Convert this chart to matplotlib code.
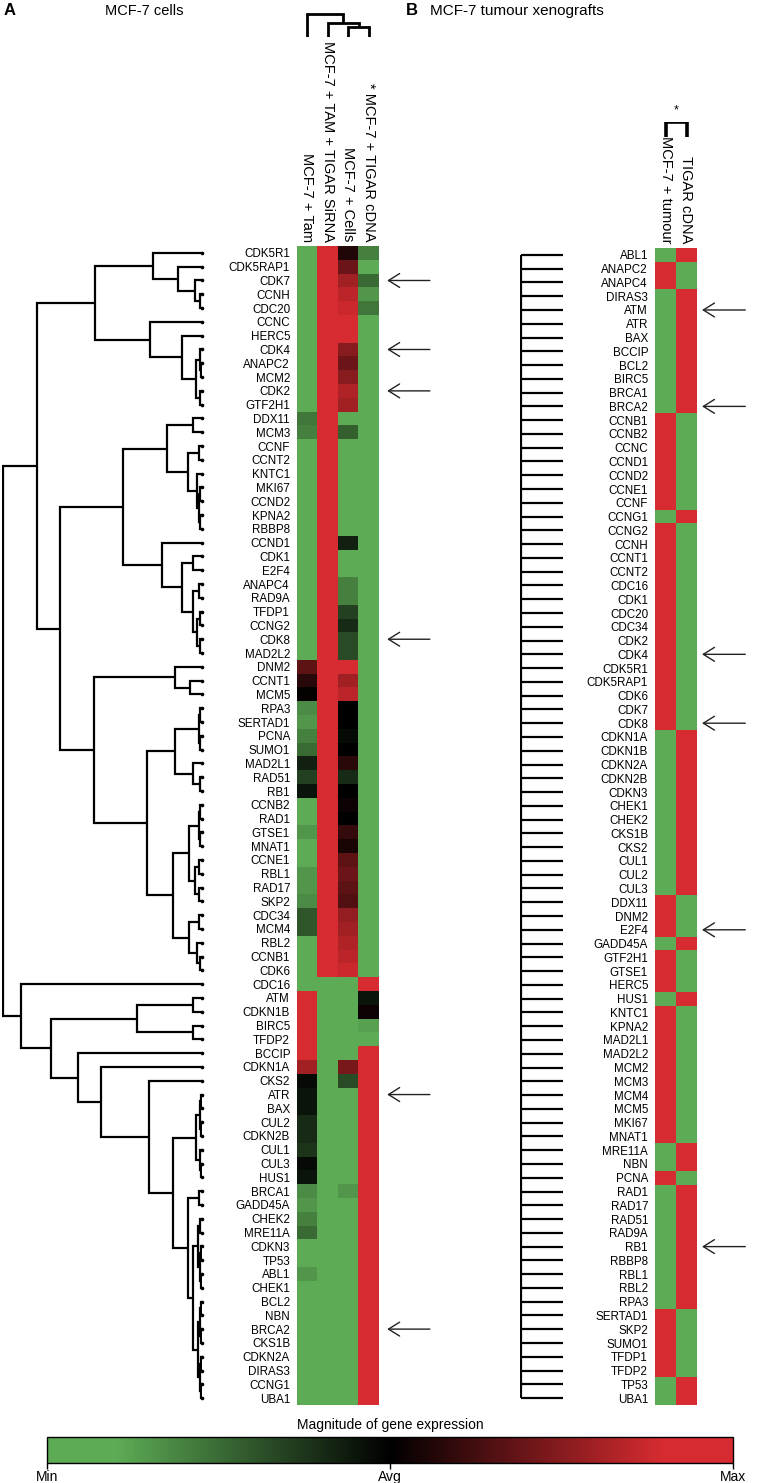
import numpy as np
import matplotlib.pyplot as plt
from matplotlib.colors import LinearSegmentedColormap, Normalize
from matplotlib import cm

W, H = 770, 1483
plt.rcParams["font.family"] = ["Liberation Sans", "DejaVu Sans"]

GREEN = "#5DAB55"
RED = "#D62B30"

# ---- panel A: MCF-7 cells (-1 = min, 0 = avg, 1 = max) ----
genes_a = [
    "CDK5R1", "CDK5RAP1", "CDK7", "CCNH", "CDC20", "CCNC", "HERC5", "CDK4", "ANAPC2", "MCM2",
    "CDK2", "GTF2H1", "DDX11", "MCM3", "CCNF", "CCNT2", "KNTC1", "MKI67", "CCND2", "KPNA2",
    "RBBP8", "CCND1", "CDK1", "E2F4", "ANAPC4", "RAD9A", "TFDP1", "CCNG2", "CDK8", "MAD2L2",
    "DNM2", "CCNT1", "MCM5", "RPA3", "SERTAD1", "PCNA", "SUMO1", "MAD2L1", "RAD51", "RB1",
    "CCNB2", "RAD1", "GTSE1", "MNAT1", "CCNE1", "RBL1", "RAD17", "SKP2", "CDC34", "MCM4",
    "RBL2", "CCNB1", "CDK6", "CDC16", "ATM", "CDKN1B", "BIRC5", "TFDP2", "BCCIP", "CDKN1A",
    "CKS2", "ATR", "BAX", "CUL2", "CDKN2B", "CUL1", "CUL3", "HUS1", "BRCA1", "GADD45A",
    "CHEK2", "MRE11A", "CDKN3", "TP53", "ABL1", "CHEK1", "BCL2", "NBN", "BRCA2", "CKS1B",
    "CDKN2A", "DIRAS3", "CCNG1", "UBA1",
]
conditions_a = ["MCF-7 + Tam", "MCF-7 + TAM + TIGAR SiRNA", "MCF-7 + Cells", "* MCF-7 + TIGAR cDNA"]

tam = [
    -1, -1, -1, -1, -1, -1, -1, -1, -1, -1, -1, -1,
    -0.55, -0.6, -1, -1, -0.9, -1, -1, -1, -1, -1, -1, -1,
    -1, -1, -1, -1, -1, -1, 0.35, 0.15, 0.02, -0.65, -0.7, -0.6,
    -0.5, -0.15, -0.3, -0.1, -0.95, -0.9, -0.7, -0.8, -0.95, -0.7, -0.7, -0.65,
    -0.4, -0.4, -0.9, -0.8, -0.8, -1, 1, 1, 1, 1, 1, 0.6,
    -0.05, -0.1, -0.1, -0.2, -0.2, -0.25, -0.05, -0.1, -0.65, -0.7, -0.6, -0.5,
    -0.8, -0.85, -0.7, -0.8, -1, -1, -1, -1, -1, -1, -1, -1,
]
tam_sirna = [
    1, 1, 1, 1, 1, 1, 1, 1, 1, 1, 1, 1,
    1, 1, 1, 1, 1, 1, 1, 1, 1, 1, 1, 1,
    1, 1, 1, 1, 1, 1, 1, 1, 1, 1, 1, 1,
    1, 1, 1, 1, 1, 1, 1, 1, 1, 1, 1, 1,
    1, 1, 1, 1, 1, -1, -1, -1, -1, -1, -1, -1,
    -1, -1, -1, -1, -1, -1, -1, -1, -1, -1, -1, -1,
    -1, -1, -1, -1, -1, -1, -1, -1, -1, -1, -1, -1,
]
cells = [
    0.12, 0.4, 0.6, 0.7, 0.75, 0.9, 0.95, 0.5, 0.4, 0.5, 0.65, 0.6,
    -0.85, -0.45, -1, -1, -0.9, -1, -0.85, -0.9, -0.9, -0.15, -0.9, -0.9,
    -0.6, -0.6, -0.3, -0.2, -0.35, -0.35, 0.95, 0.6, 0.7, 0.0, 0.0, -0.05,
    0.0, 0.15, -0.2, 0.0, 0.05, 0.0, 0.2, 0.1, 0.35, 0.4, 0.35, 0.3,
    0.55, 0.6, 0.65, 0.7, 0.75, -1, -1, -1, -1, -1, -1, 0.45,
    -0.35, -1, -1, -1, -0.95, -1, -1, -1, -0.7, -0.9, -1, -1,
    -1, -1, -1, -1, -1, -1, -1, -1, -1, -1, -1, -1,
]
tigar_cdna = [
    -0.6, -0.95, -0.5, -0.7, -0.55, -0.85, -1, -1, -1, -1, -1, -1,
    -1, -1, -1, -1, -1, -1, -1, -1, -1, -1, -1, -1,
    -1, -1, -1, -1, -1, -1, -1, -1, -1, -1, -1, -1,
    -1, -1, -1, -1, -1, -1, -1, -1, -1, -1, -1, -1,
    -1, -1, -1, -1, -1, 1, -0.1, 0.05, -0.75, -1, 1, 1,
    1, 1, 1, 1, 1, 1, 1, 1, 1, 1, 1, 1,
    1, 1, 1, 1, 1, 1, 1, 1, 1, 1, 1, 1,
]

# gene dendrogram: (merge height, left, right), leaves are row indices
tree_top1 = (49, 0, (24, 1, (7, 2, (2, 3, 4))))
tree_top2 = (52, 5, (20, 6, (6, (2, 7, (1, 8, 9)), (2, 10, 11))))
tree_mid1 = (79,
             (35, (9, 12, 13), (14, (3, 14, 15), (5, 16, (3, (2, 17, 18), (2, 19, 20))))),
             (40, 21, (20, (9, 22, 23), (9, (3, 24, 25), (5, (2, 26, 27), (2, 28, 29))))))
tree_mid2 = (108,
             (27, 30, (12, 31, 32)),
             (55, (27, (3, (2, 33, 34), (2, 35, 36)), (9, 37, (2, 38, 39))),
              (29, (13, (3, (2, 40, 41), (2, 42, 43)), (7, (3, 44, 45), (3, 46, 47))),
               (13, (3, 48, 49), (5, 50, (2, 51, 52))))))
tree_low_tail = (14, (3, 68, 69),
                 (9, (4, (2, 70, 71), (2, (1, 72, 73), (1, 74, 75))),
                  (4, (2, (1, 76, 77), (1, 78, 79)), (2, (1, 80, 81), (1, 82, 83)))))
tree_low_head = (6, (2, (1, 61, 62), (1, 63, 64)), (2, 65, (1, 66, 67)))
tree_low = (181, 53, (151, (65, (9, 54, 55), (9, 56, 57)),
                      (124, 58, (101, 59, (53, 60, (29, tree_low_head, tree_low_tail))))))
gene_tree_a = (199, (165, (107, tree_top1, tree_top2), (142, tree_mid1, tree_mid2)), tree_low)
cond_tree_a = (23, 0, (14, 1, (10, 2, 3)))

arrows_a = ["CDK7", "CDK4", "CDK2", "CDK8", "ATR", "BRCA2"]

# ---- panel B: MCF-7 tumour xenografts ----
genes_b = [
    "ABL1", "ANAPC2", "ANAPC4", "DIRAS3", "ATM", "ATR", "BAX", "BCCIP", "BCL2", "BIRC5",
    "BRCA1", "BRCA2", "CCNB1", "CCNB2", "CCNC", "CCND1", "CCND2", "CCNE1", "CCNF", "CCNG1",
    "CCNG2", "CCNH", "CCNT1", "CCNT2", "CDC16", "CDK1", "CDC20", "CDC34", "CDK2", "CDK4",
    "CDK5R1", "CDK5RAP1", "CDK6", "CDK7", "CDK8", "CDKN1A", "CDKN1B", "CDKN2A", "CDKN2B", "CDKN3",
    "CHEK1", "CHEK2", "CKS1B", "CKS2", "CUL1", "CUL2", "CUL3", "DDX11", "DNM2", "E2F4",
    "GADD45A", "GTF2H1", "GTSE1", "HERC5", "HUS1", "KNTC1", "KPNA2", "MAD2L1", "MAD2L2", "MCM2",
    "MCM3", "MCM4", "MCM5", "MKI67", "MNAT1", "MRE11A", "NBN", "PCNA", "RAD1", "RAD17",
    "RAD51", "RAD9A", "RB1", "RBBP8", "RBL1", "RBL2", "RPA3", "SERTAD1", "SKP2", "SUMO1",
    "TFDP1", "TFDP2", "TP53", "UBA1",
]
conditions_b = ["MCF-7 + tumour", "TIGAR cDNA"]
tumour = [
    -1, 1, 1, -1, -1, -1, -1, -1, -1, -1, -1, -1,
    1, 1, 1, 1, 1, 1, 1, -1, 1, 1, 1, 1,
    1, 1, 1, 1, 1, 1, 1, 1, 1, 1, 1, -1,
    -1, -1, -1, -1, -1, -1, -1, -1, -1, -1, -1, 1,
    1, 1, -1, 1, 1, 1, -1, 1, 1, 1, 1, 1,
    1, 1, 1, 1, 1, -1, -1, 1, -1, -1, -1, -1,
    -1, -1, -1, -1, -1, 1, 1, 1, 1, 1, -1, -1,
]
tumour_cdna = [
    1, -1, -1, 1, 1, 1, 1, 1, 1, 1, 1, 1,
    -1, -1, -1, -1, -1, -1, -1, 1, -1, -1, -1, -1,
    -1, -1, -1, -1, -1, -1, -1, -1, -1, -1, -1, 1,
    1, 1, 1, 1, 1, 1, 1, 1, 1, 1, 1, -1,
    -1, -1, 1, -1, -1, -1, 1, -1, -1, -1, -1, -1,
    -1, -1, -1, -1, -1, 1, 1, -1, 1, 1, 1, 1,
    1, 1, 1, 1, 1, -1, -1, -1, -1, -1, 1, 1,
]
cond_tree_b = (1, 0, 1)
arrows_b = ["ATM", "BRCA2", "CDK4", "CDK8", "E2F4", "RB1"]

cbar_ticks = [-1, 0, 1]
cbar_labels = ["Min", "Avg", "Max"]

cmap = LinearSegmentedColormap.from_list(
    "gkr", [(0, GREEN), (0.1, GREEN), (0.5, "black"), (0.9, RED), (1, RED)])
norm = Normalize(-1, 1)

fig = plt.figure(figsize=(W / 100, H / 100), dpi=100)


def px_axes(x0, y0, x1, y1):
    return fig.add_axes([x0 / W, 1 - y1 / H, (x1 - x0) / W, (y1 - y0) / H])


def draw_tree(ax, node, lw, vertical=False):
    # returns (leaf-axis position, height) of the node
    if isinstance(node, int):
        return node, 0.0
    h, left, right = node
    pl, hl = draw_tree(ax, left, lw, vertical)
    pr, hr = draw_tree(ax, right, lw, vertical)
    hs, ps = [hl, h, h, hr], [pl, pl, pr, pr]
    if vertical:
        ax.plot(ps, hs, color="black", lw=lw, solid_capstyle="butt", solid_joinstyle="miter")
    else:
        ax.plot(hs, ps, color="black", lw=lw, solid_capstyle="butt", solid_joinstyle="miter")
    return (pl + pr) / 2, h


def heatmap(ax, vals, genes, conds, arrows, arrow_x):
    ax.imshow(vals, cmap=cmap, norm=norm, aspect="auto", interpolation="nearest")
    ax.xaxis.tick_top()
    ax.set_xticks(range(len(conds)), conds, rotation=270, fontsize=10.5)
    ax.set_yticks(range(len(genes)), genes, fontsize=8.4)
    ax.tick_params(length=0)
    ax.tick_params(axis="x", pad=3)
    ax.tick_params(axis="y", pad=5)
    for s in ax.spines.values():
        s.set_visible(False)
    tr = ax.get_yaxis_transform()
    for g in arrows:
        r = genes.index(g)
        ax.annotate("", xy=(arrow_x[0], r), xytext=(arrow_x[1], r), xycoords=tr, textcoords=tr,
                    annotation_clip=False,
                    arrowprops=dict(arrowstyle="->,head_length=0.8,head_width=0.5", lw=1.0,
                                    color="#222222", mutation_scale=10, shrinkA=0, shrinkB=0))


# ---- panel A ----
hm_a = px_axes(297, 246, 379, 1405)
heatmap(hm_a, np.column_stack([tam, tam_sirna, cells, tigar_cdna]), genes_a, conditions_a,
        arrows_a, (1.1, 1.62))

den_a = px_axes(2, 246, 202, 1405)
draw_tree(den_a, gene_tree_a, 1.6)
den_a.plot(np.zeros(len(genes_a)), range(len(genes_a)), "o", ms=1.6, color="black", clip_on=False)
den_a.set_xlim(200, 0)
den_a.set_ylim(len(genes_a) - 0.5, -0.5)
den_a.axis("off")

cden_a = px_axes(297, 10, 379, 37)
draw_tree(cden_a, cond_tree_a, 2.0, vertical=True)
cden_a.set_xlim(-0.5, len(conditions_a) - 0.5)
cden_a.set_ylim(0, 27)
cden_a.axis("off")

# ---- panel B ----
hm_b = px_axes(655, 248, 697, 1405)
heatmap(hm_b, np.column_stack([tumour, tumour_cdna]), genes_b, conditions_b,
        arrows_b, (1.12, 2.15))

den_b = px_axes(520, 248, 563, 1405)
rows_b = np.arange(len(genes_b))
den_b.hlines(rows_b, 0, 1, color="black", lw=1.6)
den_b.vlines(1, rows_b[0], rows_b[-1], color="black", lw=1.6)
den_b.set_xlim(1.02, 0)
den_b.set_ylim(len(genes_b) - 0.5, -0.5)
den_b.axis("off")

cden_b = px_axes(655, 122, 697, 137)
draw_tree(cden_b, cond_tree_b, 2.6, vertical=True)
cden_b.text(0.5, 1.35, "*", ha="center", va="bottom", fontsize=9)
cden_b.set_xlim(-0.5, len(conditions_b) - 0.5)
cden_b.set_ylim(0, 1)
cden_b.axis("off")

# ---- titles ----
fig.text(4 / W, 1 - 3 / H, "A", fontsize=12, fontweight="bold", va="top")
fig.text(105 / W, 1 - 11 / H, "MCF-7 cells", fontsize=10.5, va="center")
fig.text(406 / W, 1 - 3 / H, "B", fontsize=12, fontweight="bold", va="top")
fig.text(430 / W, 1 - 11 / H, "MCF-7 tumour xenografts", fontsize=11, va="center")

# ---- colour bar ----
cax = px_axes(47, 1437, 733, 1463)
cb = fig.colorbar(cm.ScalarMappable(norm=norm, cmap=cmap), cax=cax, orientation="horizontal",
                  ticks=cbar_ticks)
cb.ax.set_xticklabels(cbar_labels)
cb.ax.tick_params(length=4, width=1, labelsize=10, pad=1)
cb.outline.set_linewidth(1.0)
cb.ax.set_title("Magnitude of gene expression", fontsize=10, pad=6)

fig.savefig("out.png", dpi=100)
